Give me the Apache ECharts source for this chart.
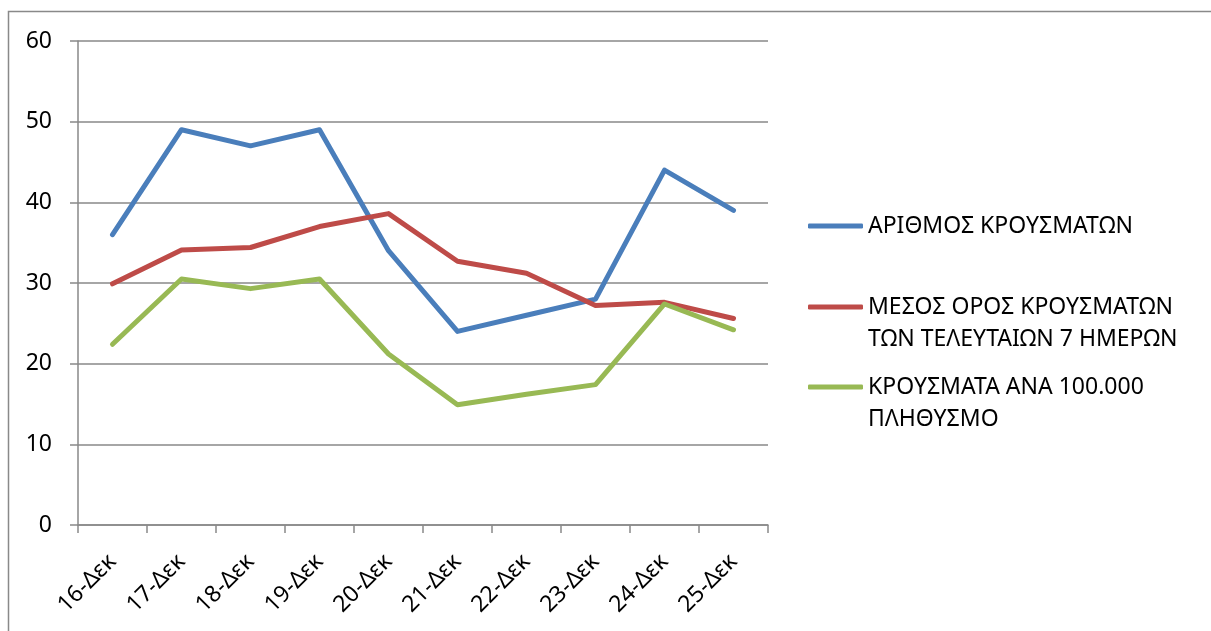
<!DOCTYPE html>
<html>
<head>
<meta charset="utf-8">
<script src="https://cdn.jsdelivr.net/npm/echarts@6/dist/echarts.min.js"></script>
<style>
  html, body { margin: 0; padding: 0; background: #fff; }
  #chart { width: 1211px; height: 631px; }
</style>
</head>
<body>
<div id="chart"></div>
<script>
const categories = ['16-Δεκ', '17-Δεκ', '18-Δεκ', '19-Δεκ', '20-Δεκ', '21-Δεκ', '22-Δεκ', '23-Δεκ', '24-Δεκ', '25-Δεκ']
const cases = [36, 49, 47, 49, 34, 24, 26, 28, 44, 39]
const avg7 = [29.9, 34.1, 34.4, 37.0, 38.6, 32.7, 31.2, 27.2, 27.6, 25.6]
const per100k = [22.4, 30.5, 29.3, 30.5, 21.2, 14.9, 16.2, 17.4, 27.4, 24.2]
const yTicks = { min: 0, max: 60, interval: 10 }

const names = ['ΑΡΙΘΜΟΣ ΚΡΟΥΣΜΑΤΩΝ', 'ΜΕΣΟΣ ΟΡΟΣ ΚΡΟΥΣΜΑΤΩΝ', 'ΚΡΟΥΣΜΑΤΑ ΑΝΑ 100.000']
// leading empty line keeps the icon level with the first text line
const legendText = {
  [names[0]]: 'ΑΡΙΘΜΟΣ ΚΡΟΥΣΜΑΤΩΝ',
  [names[1]]: ' \nΜΕΣΟΣ ΟΡΟΣ ΚΡΟΥΣΜΑΤΩΝ\nΤΩΝ ΤΕΛΕΥΤΑΙΩΝ 7 ΗΜΕΡΩΝ',
  [names[2]]: ' \nΚΡΟΥΣΜΑΤΑ ΑΝΑ 100.000\nΠΛΗΘΥΣΜΟ'
}
const colors = ['#4a7ebb', '#be4b48', '#98b954']

const font = '"Noto Sans", "DejaVu Sans", sans-serif'
const gray = '#898989'

const chart = echarts.init(document.getElementById('chart'))

const makeLegend = (name, top) => ({
  data: [name],
  orient: 'vertical',
  left: 808,
  top: top,
  padding: 0,
  icon: 'roundRect',
  itemWidth: 55,
  itemHeight: 5,
  selectedMode: false,
  formatter: (n) => legendText[n],
  textStyle: {
    color: '#000',
    fontFamily: font,
    fontSize: 23,
    lineHeight: 32
  }
})

const makeSeries = (name, data, color) => ({
  name: name,
  type: 'line',
  data: data,
  symbol: 'none',
  smooth: false,
  color: color,
  lineStyle: { color: color, width: 5, cap: 'round', join: 'round' },
  animation: false
})

chart.setOption({
  backgroundColor: '#fff',
  grid: { left: 78, right: 443, top: 41, bottom: 106, containLabel: false },
  legend: [
    makeLegend(names[0], 210),
    makeLegend(names[1], 259),
    makeLegend(names[2], 339)
  ],
  xAxis: {
    type: 'category',
    data: categories,
    boundaryGap: true,
    axisLine: { lineStyle: { color: gray, width: 1.5 } },
    axisTick: { show: true, interval: 0, length: 8, lineStyle: { color: gray, width: 1.5 } },
    axisLabel: {
      interval: 0,
      rotate: 45,
      margin: 33,
      color: '#000',
      fontFamily: font,
      fontSize: 23
    }
  },
  yAxis: {
    type: 'value',
    min: yTicks.min,
    max: yTicks.max,
    interval: yTicks.interval,
    axisLine: { show: true, lineStyle: { color: gray, width: 1.5 } },
    axisTick: { show: true, length: 8, lineStyle: { color: gray, width: 1.5 } },
    splitLine: { show: true, lineStyle: { color: gray, width: 1.5 } },
    axisLabel: { margin: 26, color: '#000', fontFamily: font, fontSize: 23 }
  },
  graphic: [
    {
      type: 'rect',
      shape: { x: 8.5, y: 11.5, width: 1400, height: 800 },
      style: { fill: 'none', stroke: gray, lineWidth: 1.5 },
      silent: true
    }
  ],
  series: [
    makeSeries(names[0], cases, colors[0]),
    makeSeries(names[1], avg7, colors[1]),
    makeSeries(names[2], per100k, colors[2])
  ]
})
</script>
</body>
</html>
